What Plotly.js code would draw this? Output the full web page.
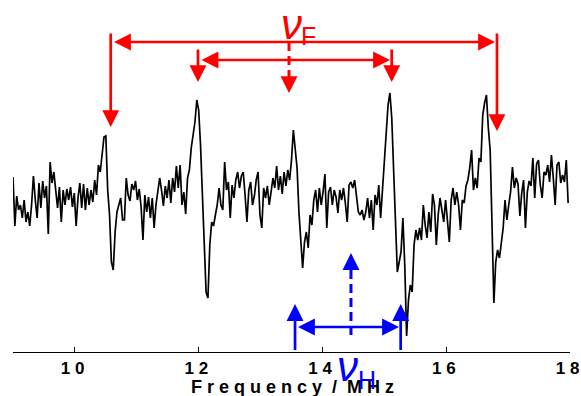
<!DOCTYPE html>
<html>
<head>
<meta charset="utf-8">
<script src="https://cdn.plot.ly/plotly-3.0.1.min.js"></script>
<style>html,body{margin:0;padding:0;background:#fff;}#chart{width:581px;height:396px;}</style>
</head>
<body>
<div id="chart"></div>
<script>
// ---- data ----
const FREQ_START = 9.0;     // MHz, first sample
const FREQ_STEP = 0.03;     // MHz between samples
const intensity = [
  175,126,156,142,147,134,152,130,140,126,
  147,176,152,134,169,144,171,154,166,118,
  190,169,180,162,144,165,130,162,147,163,
  152,165,145,159,126,154,169,144,168,142,
  164,147,162,150,172,157,187,180,200,215,
  216,162,137,90,82,120,140,147,154,132,
  132,174,157,151,168,162,171,152,163,145,
  112,157,140,155,134,154,124,147,162,174,
  162,146,166,154,172,149,174,160,186,164,
  187,147,160,138,174,182,204,217,230,252,
  242,207,157,97,60,54,107,130,126,137,
  147,164,147,142,190,162,170,134,167,154,
  172,180,164,176,180,157,130,162,170,147,
  156,172,180,137,124,164,154,166,147,160,
  174,164,186,162,176,158,180,166,182,172,
  192,222,202,184,140,107,84,110,120,104,
  137,127,152,162,140,164,147,160,178,124,
  160,165,147,162,155,139,162,152,164,149,
  130,167,170,164,172,156,140,137,142,132,
  140,154,134,152,122,157,147,167,134,162,
  192,222,247,259,234,182,127,80,90,100,
  134,87,16,52,67,60,107,122,112,124,
  112,147,127,114,140,120,158,147,107,137,
  154,142,130,152,127,110,152,164,147,160,
  147,122,152,149,166,172,184,202,162,174,
  164,194,190,237,249,257,224,202,127,49,
  90,102,94,107,124,152,132,147,160,185,
  164,174,168,136,159,172,124,160,171,166,
  194,154,188,192,167,154,180,177,187,170,
  197,174,147,187,190,169,177,170,192,149
];
const tickValues = [10, 12, 14, 16, 18];
const tickLabels = ['1\u00a00\u00a0', '1\u00a02\u00a0', '1\u00a04\u00a0', '1\u00a06\u00a0', '1\u00a08\u00a0'];
const xTitle = 'F\u00a0r\u00a0e\u00a0q\u00a0u\u00a0e\u00a0n\u00a0c\u00a0y\u00a0\u00a0/\u00a0\u00a0M\u00a0H\u00a0z';
// hyperfine line positions (MHz) marked by the arrows
const fluorineLines = [10.579, 11.989, 13.46, 15.119, 16.82];
const protonLines = [13.557, 14.461, 15.264];

// ---- styles / layout ----
const RED = '#ff0000', BLUE = '#0000ff';
const AW = 2.7, AS = 1.25;

const trace = {
  type: 'scatter', mode: 'lines',
  x0: FREQ_START, dx: FREQ_STEP, y: intensity,
  line: {color: '#000', width: 1.7},
  hoverinfo: 'skip'
};

function vArrow(x, tipY, tailY, color) {
  return {x: x, y: tipY, ax: x, ay: tailY, xref: 'x', yref: 'y', axref: 'x', ayref: 'y',
    showarrow: true, arrowhead: 2, arrowsize: AS, arrowwidth: AW, arrowcolor: color, text: ''};
}
function hArrow(x0, x1, y, color) {
  return {x: x1, y: y, ax: x0, ay: y, xref: 'x', yref: 'y', axref: 'x', ayref: 'y',
    showarrow: true, arrowhead: 2, startarrowhead: 2, arrowside: 'end+start',
    arrowsize: AS, startarrowsize: AS, arrowwidth: AW, arrowcolor: color, text: ''};
}
function headOnly(x, tipY, ayPx, color) {
  return {x: x, y: tipY, ax: 0, ay: ayPx, xref: 'x', yref: 'y',
    showarrow: true, arrowhead: 2, arrowsize: AS, arrowwidth: AW, arrowcolor: color, text: ''};
}

const F = fluorineLines, H = protonLines;
const annotations = [
  vArrow(F[0], 225, 320, RED),
  vArrow(F[4], 221, 320, RED),
  hArrow(10.608, 16.788, 310, RED),
  vArrow(F[1], 270, 304, RED),
  vArrow(F[3], 270, 304, RED),
  hArrow(12.021, 15.091, 292, RED),
  headOnly(F[2], 259, -16, RED),
  vArrow(H[0], 48, 0.5, BLUE),
  vArrow(H[2], 48, 0.5, BLUE),
  hArrow(13.581, 15.237, 25, BLUE),
  headOnly(H[1], 99, 16, BLUE),
  // axis title
  {x: 13.51, y: (352 - 387) / 352, xref: 'x', yref: 'paper', text: xTitle, showarrow: false,
   xanchor: 'center', yanchor: 'middle',
   font: {family: 'Liberation Sans, Arial, sans-serif', size: 18, color: '#000', weight: 'bold'}},
  // labels
  {x: 13.492, y: (352 - 24) / 352, xref: 'x', yref: 'paper', text: '\u03bd', showarrow: false,
   xanchor: 'center', yanchor: 'middle', font: {family: 'Liberation Sans', size: 42, color: RED, style: 'italic'}},
  {x: 13.77, y: (352 - 36) / 352, xref: 'x', yref: 'paper', text: 'F', showarrow: false,
   xanchor: 'center', yanchor: 'middle', font: {family: 'Liberation Sans', size: 25, color: RED}},
  {x: 14.41, y: (352 - 366) / 352, xref: 'x', yref: 'paper', text: '\u03bd', showarrow: false,
   xanchor: 'center', yanchor: 'middle', font: {family: 'Liberation Sans', size: 42, color: BLUE, style: 'italic'}},
  {x: 14.72, y: (352 - 380) / 352, xref: 'x', yref: 'paper', text: 'H', showarrow: false,
   xanchor: 'center', yanchor: 'middle', font: {family: 'Liberation Sans', size: 25, color: BLUE}}
];

const shapes = [
  {type: 'line', xref: 'x', yref: 'y', x0: F[2], x1: F[2], y0: 310, y1: 271,
   line: {color: RED, width: 3, dash: '9px,5px'}},
  {type: 'line', xref: 'x', yref: 'y', x0: H[1], x1: H[1], y0: 17, y1: 88,
   line: {color: BLUE, width: 3, dash: '9px,5px'}}
];

const layout = {
  width: 581, height: 396,
  margin: {l: 13, r: 11, t: 0, b: 44, pad: 0},
  paper_bgcolor: '#fff', plot_bgcolor: '#fff',
  showlegend: false,
  xaxis: {
    range: [9, 18], tickvals: tickValues, ticktext: tickLabels,
    ticks: 'inside', ticklen: 5, tickwidth: 1, tickcolor: '#000',
    showline: true, linecolor: '#000', linewidth: 1.3, mirror: false,
    showgrid: false, zeroline: false, automargin: false,
    ticklabeloverflow: 'allow',
    tickfont: {family: 'Liberation Sans, Arial, sans-serif', size: 17, color: '#000', weight: 'bold'}
  },
  yaxis: {range: [0, 352], visible: false, showgrid: false, zeroline: false},
  annotations: annotations,
  shapes: shapes
};

Plotly.newPlot('chart', [trace], layout, {displayModeBar: false, staticPlot: true});
</script>
</body>
</html>
